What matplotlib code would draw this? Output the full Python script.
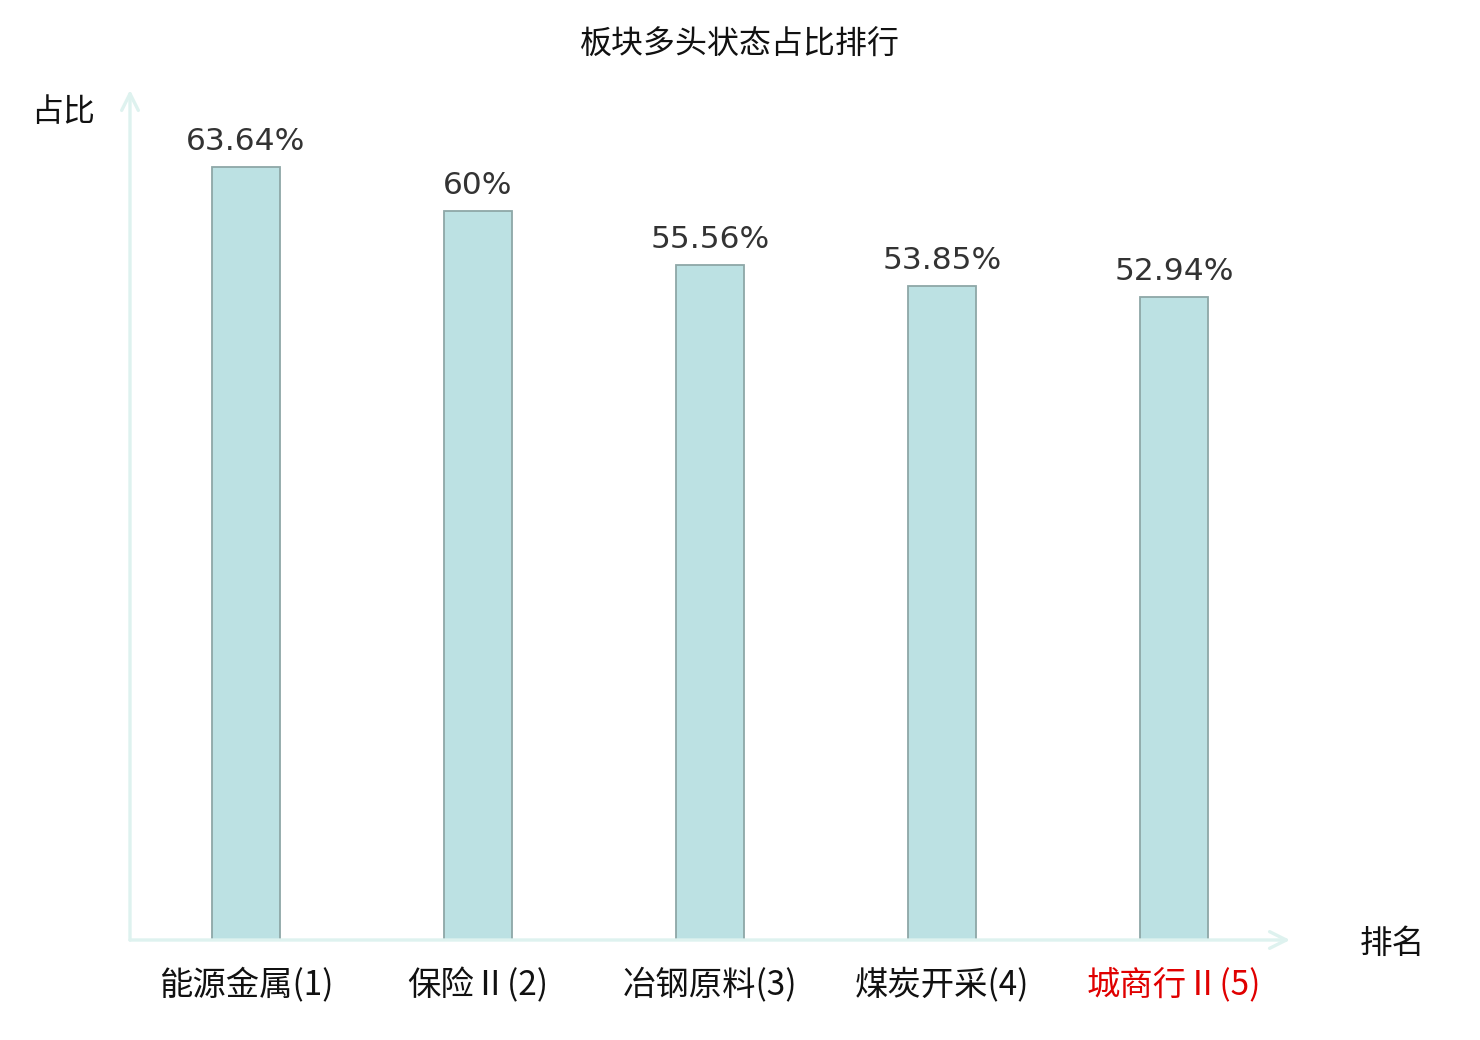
import matplotlib
matplotlib.use('Agg')
import matplotlib.pyplot as plt

plt.rcParams['font.family'] = ['Noto Sans CJK SC', 'DejaVu Sans']

# data
sectors = ["能源金属(1)", "保险Ⅱ(2)", "冶钢原料(3)", "煤炭开采(4)", "城商行Ⅱ(5)"]
ratios = [63.64, 60, 55.56, 53.85, 52.94]
value_labels = ["63.64%", "60%", "55.56%", "53.85%", "52.94%"]
label_colors = ["#111111", "#111111", "#111111", "#111111", "#e00000"]

axis_color = "#def2ef"
bar_color = "#bce1e3"
bar_edge = "#8ea7a7"

fig = plt.figure(figsize=(14.8, 10.4), dpi=100)
ax = fig.add_axes([130 / 1480, 100 / 1040, 1160 / 1480, 850 / 1040])

x = list(range(len(sectors)))
ax.bar(x, ratios, width=0.293, color=bar_color, edgecolor=bar_edge, linewidth=1.3, zorder=2)

for xi, v, lab in zip(x, ratios, value_labels):
    ax.annotate(lab, (xi, v), xytext=(0, 8), textcoords="offset points",
                ha="center", va="bottom", fontsize=22.5, color="#333333",
                family="DejaVu Sans")

ax.set_xlim(-0.5, 4.5)
ax.set_ylim(0, 70)

for s in ax.spines.values():
    s.set_visible(False)
ax.set_yticks([])
ax.set_xticks(x)
ax.set_xticklabels(sectors, fontsize=24)
for t, c in zip(ax.get_xticklabels(), label_colors):
    t.set_color(c)
ax.tick_params(axis="x", length=0, pad=20)

# axis arrows
arrow = dict(arrowstyle="->", color=axis_color, lw=2.4, mutation_scale=30,
             shrinkA=0, shrinkB=0)
ax.annotate("", xy=(1, 0), xytext=(0, 0), xycoords="axes fraction",
            arrowprops=arrow, annotation_clip=False)
ax.annotate("", xy=(0, 1), xytext=(0, 0), xycoords="axes fraction",
            arrowprops=arrow, annotation_clip=False)

fig.text(740 / 1480, 1 - 45 / 1040, "板块多头状态占比排行", ha="center", va="center",
         fontsize=23, color="#111111")
fig.text(63 / 1480, 1 - 112 / 1040, "占比", ha="center", va="center",
         fontsize=23, color="#111111")
fig.text(1392 / 1480, 1 - 944 / 1040, "排名", ha="center", va="center",
         fontsize=23.5, color="#111111")

fig.savefig("out.png", dpi=100)
